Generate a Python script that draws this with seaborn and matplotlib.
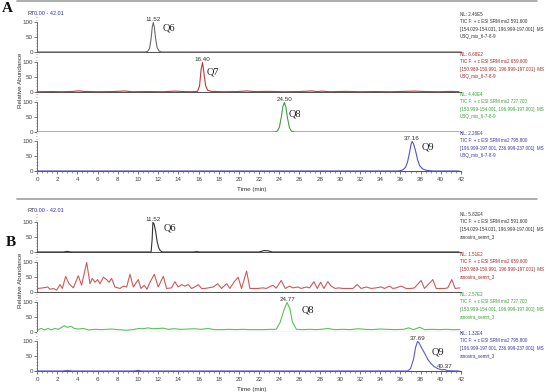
import matplotlib
matplotlib.use("Agg")
import matplotlib.pyplot as plt
from matplotlib.ticker import MultipleLocator
import seaborn as sns
import pandas as pd

sns.set_style("white")
plt.rcParams["font.family"] = ["Liberation Sans", "DejaVu Sans"]

# ---------------- data ----------------
# Panel A : standard mix
tA6 = [0, 10.7, 10.95, 11.15, 11.3, 11.42, 11.52, 11.62, 11.75, 11.9, 12.1, 12.35, 42]
vA6 = [0, 0, 2, 12, 45, 85, 100, 85, 45, 15, 3, 0, 0]

tA7 = [0, 1.5, 2.5, 3.6, 4.1, 4.6, 6, 7.5, 8.7, 9.4, 11, 12.5, 13.7, 14.5, 15.3, 15.9,
       16.1, 16.25, 16.4, 16.55, 16.7, 16.9, 17.3, 18.5, 19.8, 20.8, 21.5, 23, 24.5,
       26, 27.2, 27.8, 28.2, 29, 30.5, 32, 33.5, 35, 36.3, 37.4, 38.5, 39.8, 41, 41.8]
vA7 = [1, 1.5, 1, 2, 4, 2, 1, 1.5, 3.5, 1, 1.5, 1, 3, 1.5, 1, 2,
       20, 75, 100, 60, 22, 6, 2, 1, 1.5, 3.5, 1.5, 2, 1,
       1.5, 3.5, 1.5, 3, 1, 2, 1, 1.5, 1, 2, 3, 1.5, 1, 2, 1]

tA8 = [0, 23.5, 23.8, 24.0, 24.2, 24.35, 24.5, 24.65, 24.8, 25.0, 25.2, 25.5, 41.8]
vA8 = [0, 0, 3, 15, 50, 85, 100, 85, 50, 15, 3, 0, 0]

tA9 = [0, 35.8, 36.2, 36.5, 36.7, 36.9, 37.05, 37.16, 37.3, 37.5, 37.7, 37.9, 38.2, 38.6, 39.2, 41.8]
vA9 = [0, 0, 3, 12, 30, 62, 90, 100, 92, 68, 38, 18, 7, 2, 0, 0]

# Panel B : sample
tB6 = [0, 2.6, 3.0, 3.4, 11.3, 11.4, 11.48, 11.6, 11.75, 11.9, 12.05, 12.2, 12.4,
       15.5, 15.8, 16.1, 22.0, 22.5, 22.9, 23.3, 41.8]
vB6 = [0, 0, 2, 0, 0, 40, 100, 95, 70, 35, 15, 5, 0,
       0, 1.5, 0, 0, 5, 4, 0, 0]

tB7 = [0.13, 0.79, 1.06, 1.29, 1.62, 1.95, 2.28, 2.51, 2.84, 3.17, 3.6, 4.09, 4.42, 4.92,
       5.25, 5.48, 5.74, 6.01, 6.24, 6.57, 6.9, 7.13, 7.39, 7.72, 8.22, 8.55, 8.88, 9.21,
       9.54, 10.03, 10.3, 10.63, 10.89, 11.19, 11.62, 12.01, 12.51, 12.84, 13.33, 13.66,
       13.99, 14.32, 14.65, 14.98, 15.31, 15.64, 15.97, 16.3, 16.63, 16.96, 17.46, 17.89,
       18.28, 18.78, 19.11, 19.54, 19.93, 20.26, 20.76, 21.09, 21.22, 21.88, 22.38, 22.71,
       23.37, 23.7, 24.19, 24.59, 25.02, 25.35, 25.84, 26.17, 26.67, 27.0, 27.43, 27.76,
       28.09, 28.42, 28.81, 29.14, 29.54, 29.87, 30.3, 31.29, 31.72, 32.11, 32.61, 33.1,
       33.6, 34.09, 34.42, 34.92, 35.25, 35.58, 36.07, 36.57, 37.06, 37.39, 38.05, 38.38,
       39.21, 39.54, 40.36, 40.69, 41.09, 41.42, 41.9]
vB7 = [12, 15, 17, 9, 12, 6, 25, 12, 53, 28, 14, 55, 23, 100,
       28, 46, 33, 42, 28, 50, 42, 33, 46, 17, 12, 20, 17, 60,
       17, 42, 12, 23, 9, 33, 60, 17, 53, 12, 14, 35,
       17, 25, 20, 25, 12, 17, 25, 12, 12, 14, 17, 28,
       12, 28, 12, 35, 50, 12, 71, 12, 12, 12, 14, 12,
       23, 13, 39, 12, 20, 14, 17, 12, 17, 14, 35, 12,
       33, 12, 35, 20, 12, 14, 12, 12, 25, 12, 17, 12,
       14, 17, 12, 20, 12, 14, 20, 12, 12, 14, 39, 12,
       42, 12, 12, 14, 42, 12, 14]

tB8 = [0.1, 0.4, 0.75, 1.1, 1.4, 1.8, 2.1, 2.7, 3.0, 3.4, 3.7, 4.1, 4.6, 5.1, 5.7, 6.4,
       7.4, 8.0, 8.8, 9.5, 10.1, 10.5, 11.0, 11.5, 12.0, 12.5, 13.0, 13.6, 14.2, 14.9,
       15.6, 16.3, 16.9, 17.6, 18.3, 19.0, 19.7, 20.4, 21.1, 21.7, 22.4, 23.2, 23.7,
       24.1, 24.45, 24.77, 25.05, 25.3, 25.7, 26.3, 27.0, 27.7, 28.4, 28.8, 29.5,
       30.3, 31.0, 31.8, 32.5, 33.2, 34.0, 34.7, 35.5, 36.3, 36.8, 37.3, 37.9, 38.4,
       39.1, 39.8, 40.5, 41.2, 41.9]
vB8 = [7, 12, 7, 12, 7, 12, 9, 21, 16, 19, 12, 10, 12, 7, 9, 8,
       10, 8, 6, 8, 12, 11, 14, 11, 12, 13, 9, 11, 9, 10,
       11, 9, 12, 8, 8, 9, 8, 9, 8, 8, 8, 9, 9,
       34, 73, 100, 79, 34, 9, 8, 9, 8, 10, 12, 8,
       9, 8, 11, 9, 8, 10, 9, 8, 9, 14, 8, 16, 8,
       9, 8, 9, 8, 8]

tB9 = [0, 2.5, 3.0, 3.5, 9.6, 10.0, 10.4, 36.7, 37.0, 37.3, 37.5, 37.69, 37.85, 38.1,
       38.4, 38.7, 39.0, 39.3, 39.7, 40.1, 40.37, 40.7, 41.8]
vB9 = [0, 0, 1.5, 0, 0, 2, 0, 0, 8, 40, 80, 100, 95, 78,
       60, 40, 26, 16, 8, 4, 5, 1, 0]

# peak annotations and compound labels
peakA_rt = [11.52, 16.40, 24.50, 37.16]
namesA = ["Q6", "Q7", "Q8", "Q9"]
nameA_x = [12.4, 16.8, 24.9, 38.1]
nameA_y = [80, 67, 60, 80]

peakB_rt = [11.52, None, 24.77, 37.69]
namesB = ["Q6", None, "Q8", "Q9"]
nameB_x = [12.5, None, 26.2, 39.1]
nameB_y = [80, None, 73, 65]

nlA = ["2.46E5", "6.68E2", "4.40E4", "2.28E4"]
nlB = ["5.82E4", "1.51E2", "2.57E2", "1.32E4"]
ticmz = ["591.600", "659.600", "727.700", "795.800"]
ranges = ["[154.029-154.031, 196.999-197.001]  MS",
          "[150.989-150.991, 196.999-197.001]  MS",
          "[153.999-154.001, 196.999-197.001]  MS",
          "[196.999-197.001, 236.999-237.001]  MS"]
sampleA = "UBQ_mix_6-7-8-9"
sampleB = "amostra_semrt_3"

xticks = list(range(0, 43, 2))

lineA_col = ["#6a6a6a", "#c03a3a", "#3f9f3f", "#5252c8"]
lineB_col = ["#333333", "#cc5a5a", "#5cbf5c", "#5a5ad0"]
text_col = ["#333333", "#a02828", "#3aa03a", "#3838a0"]

# ---------------- figure ----------------
W, H = 552, 392
fig = plt.figure(figsize=(W / 100, H / 100), dpi=100)

AX_L, AX_W, AX_H = 37, 424, 39
bottomsA = [52, 92, 132, 171]
bottomsB = [252, 292, 332, 371]

def make_ax(bpx, last):
    ax = fig.add_axes([AX_L / W, 1 - bpx / H, AX_W / W, AX_H / H])
    ax.set_xlim(0, 42)
    ax.set_ylim(0, 132)
    for s in ["top", "right"]:
        ax.spines[s].set_visible(False)
    ax.spines["left"].set_color("#555555")
    ax.spines["left"].set_linewidth(0.6)
    ax.spines["left"].set_bounds(0, 100)
    ax.spines["bottom"].set_color("#555555")
    ax.spines["bottom"].set_linewidth(0.8)
    ax.set_yticks([0, 50, 100])
    ax.yaxis.set_minor_locator(MultipleLocator(10))
    ax.tick_params(axis="y", which="major", length=2, width=0.5, labelsize=4.5,
                   pad=1, colors="#444444", left=True)
    ax.tick_params(axis="y", which="minor", length=1, width=0.4, colors="#666666", left=True)
    if last:
        ax.set_xticks(xticks)
        ax.xaxis.set_minor_locator(MultipleLocator(0.5))
        ax.tick_params(axis="x", which="major", length=2.5, width=0.5, labelsize=4.5,
                       pad=1.5, colors="#444444", bottom=True)
        ax.tick_params(axis="x", which="minor", length=1.5, width=0.4,
                       colors="#555555", bottom=True)
    else:
        ax.set_xticks([])
    ax.set_xlabel("")
    ax.set_ylabel("")
    return ax

def trace(ax, t, v, col):
    df = pd.DataFrame({"t": t, "v": v})
    sns.lineplot(data=df, x="t", y="v", ax=ax, color=col, linewidth=0.8,
                 estimator=None, sort=True)
    for ln in ax.lines:
        ln.set_clip_on(False)
        ln.set_zorder(3)
    ax.set_xlabel("")
    ax.set_ylabel("")

dataA = [(tA6, vA6), (tA7, vA7), (tA8, vA8), (tA9, vA9)]
dataB = [(tB6, vB6), (tB7, vB7), (tB8, vB8), (tB9, vB9)]

def side_text(bpx, i, nl, sample):
    txt = f"NL: {nl}\nTIC F: + c ESI SRM ms2 {ticmz[i]}\n{ranges[i]}\n{sample}"
    fig.text(460 / W, 1 - (bpx - 40) / H, txt, ha="left", va="top",
             fontsize=3.25, color=text_col[i], linespacing=1.6)

for i in range(4):
    ax = make_ax(bottomsA[i], i == 3)
    trace(ax, *dataA[i], lineA_col[i])
    ax.text(peakA_rt[i], 102, f"{peakA_rt[i]:.2f}", ha="center", va="bottom",
            fontsize=4.5, color="#333333")
    ax.text(nameA_x[i], nameA_y[i], namesA[i], ha="left", va="center",
            fontsize=7.5, family=["Liberation Serif", "DejaVu Serif"], color="#222222")
    side_text(bottomsA[i], i, nlA[i], sampleA)

for i in range(4):
    ax = make_ax(bottomsB[i], i == 3)
    trace(ax, *dataB[i], lineB_col[i])
    if peakB_rt[i] is not None:
        ax.text(peakB_rt[i], 102, f"{peakB_rt[i]:.2f}", ha="center", va="bottom",
                fontsize=4.5, color="#333333")
        ax.text(nameB_x[i], nameB_y[i], namesB[i], ha="left", va="center",
                fontsize=7.5, family=["Liberation Serif", "DejaVu Serif"], color="#222222")
    if i == 3:
        ax.text(40.37, 7, "40.37", ha="center", va="bottom", fontsize=4.5, color="#333333")
    side_text(bottomsB[i], i, nlB[i], sampleB)

# group decorations
for off, letter, ly in [(0, "A", 8), (200, "B", 242)]:
    fig.text(20 / W, 1 - (80 + off) / H, "Relative Abundance", rotation=90,
             ha="center", va="center", fontsize=4.5, color="#333333")
    fig.text(252 / W, 1 - (189 + off) / H, "Time (min)", ha="center", va="center",
             fontsize=4.5, color="#333333")
    ry = 13.5 + off - (3 if off else 0)
    fig.text(27 / W, 1 - ry / H, "RT", ha="left", va="center", fontsize=4, color="#333333")
    fig.text(34 / W, 1 - ry / H, "0.00 - 42.01", ha="left", va="center",
             fontsize=4, color="#3030c0")
    fig.text((7 if not off else 11) / W, 1 - ly / H, letter, ha="center", va="center",
             fontsize=11, fontweight="bold", family=["Liberation Serif", "DejaVu Serif"],
             color="#111111")

for ypx in [1.2, 199]:
    fig.add_artist(plt.Line2D([17 / W, 537 / W], [1 - ypx / H, 1 - ypx / H],
                              color="#a0a0a0", linewidth=1.2))

fig.savefig("out.png", dpi=100)
